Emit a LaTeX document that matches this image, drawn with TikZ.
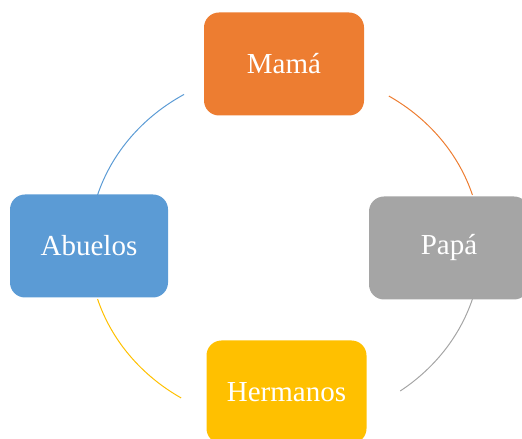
\documentclass[tikz,border=0pt]{standalone}
\usepackage{fontspec}
\setmainfont{Liberation Serif}
\definecolor{cOrange}{HTML}{ED7D31}
\definecolor{cGray}{HTML}{A5A5A5}
\definecolor{cYellow}{HTML}{FFC000}
\definecolor{cBlue}{HTML}{5B9BD5}
\tikzset{
  cyclebox/.style={rounded corners=15pt, minimum width=160pt, minimum height=103pt,
    text=white, font=\fontsize{29}{34}\selectfont, inner sep=0pt, draw=none},
  cyclearc/.style={line width=1pt},
}
\begin{document}
\begin{tikzpicture}[x=1pt,y=1pt]
\useasboundingbox (0,0) rectangle (522,439);
\coordinate (ctr) at (285,192);
\node[cyclebox, fill=cOrange] (mama) at (284,375) {Mamá};
\node[cyclebox, fill=cGray] (papa) at (449,191) {Papá};
\node[cyclebox, fill=cYellow] (herm) at (286.5,47) {Hermanos};
\node[cyclebox, fill=cBlue, minimum width=158pt] (abue) at (89,193) {Abuelos};
\draw[cyclearc, cOrange] ([shift={(58:196pt and 178pt)}]ctr) arc[start angle=58, end angle=17, x radius=196pt, y radius=178pt];
\draw[cyclearc, cGray] ([shift={(-17:196pt and 178pt)}]ctr) arc[start angle=-17, end angle=-54, x radius=196pt, y radius=178pt];
\draw[cyclearc, cYellow] ([shift={(238:196pt and 178pt)}]ctr) arc[start angle=238, end angle=197, x radius=196pt, y radius=178pt];
\draw[cyclearc, cBlue] ([shift={(163:196pt and 178pt)}]ctr) arc[start angle=163, end angle=121, x radius=196pt, y radius=178pt];
\end{tikzpicture}
\end{document}
